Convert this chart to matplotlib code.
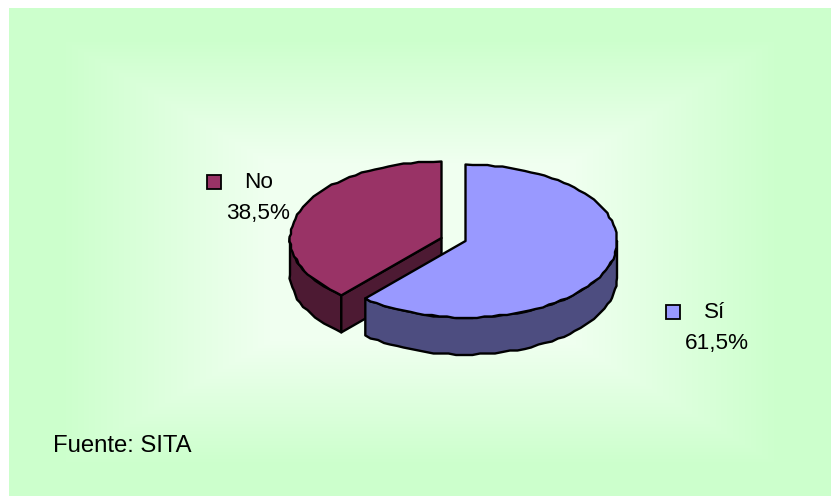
import numpy as np
import matplotlib
matplotlib.use("Agg")
import matplotlib.pyplot as plt
from matplotlib.patches import Polygon, Rectangle

labels = ["Sí", "No"]
values = [61.5, 38.5]
value_texts = ["61,5%", "38,5%"]
source = "Fuente: SITA"
top_colors = ["#9999FF", "#993366"]
side_colors = ["#4D4D80", "#4D1A33"]

W, H = 831, 496
plt.rcParams["font.family"] = ["Liberation Sans", "DejaVu Sans"]
fig = plt.figure(figsize=(W / 100, H / 100), dpi=100, facecolor="white")
ax = fig.add_axes([0, 0, 1, 1])

# background: rectangular gradient
bx0, by0, bx1, by1 = 9, 8, 831, 496
xs = np.arange(bx0, bx1) + .5
ys = np.arange(by0, by1) + .5
X, Y = np.meshgrid(xs, ys)
dx = np.abs(X - (bx0 + bx1) / 2) / ((bx1 - bx0) / 2)
dy = np.abs(Y - (by0 + by1) / 2) / ((by1 - by0) / 2)
d = np.maximum(dx, dy)
t = np.clip((0.875 - d) / 0.51, 0, 1)
edge = np.array([204, 255, 204]) / 255
inner = np.array([240, 255, 240]) / 255
img = edge[None, None, :] + t[..., None] * (inner - edge)[None, None, :]
ax.imshow(img, extent=(bx0, bx1, by1, by0), aspect="auto", zorder=0, interpolation="nearest")
ax.set_xlim(0, W)
ax.set_ylim(H, 0)
ax.axis("off")

A, B, DEPTH = 151.5, 76.5, 37
centers = [(465.5, 241), (441.5, 238)]
frac = np.array(values) / sum(values) * 2 * np.pi
spans = [(0.0, frac[0]), (frac[0], 2 * np.pi)]
GRID = 1.5  # the source outline is a slightly jagged polyline


def arc(c, a0, a1, step=0.05):
    n = max(int((a1 - a0) / step), 2)
    ths = np.linspace(a0, a1, n + 1)
    px = c[0] + A * np.sin(ths)
    py = c[1] - B * np.cos(ths)
    qx, qy = np.round(px / GRID) * GRID, np.round(py / GRID) * GRID
    qx[[0, -1]], qy[[0, -1]] = px[[0, -1]], py[[0, -1]]
    return qx, qy


def slice3d(c, a0, a1, top, side):
    kw = dict(edgecolor="black", linewidth=1.7, joinstyle="round", zorder=3)
    lo, hi = max(a0, np.pi / 2), min(a1, 3 * np.pi / 2)
    if hi > lo:
        fx, fy = arc(c, lo, hi)
        wall = np.r_[np.c_[fx, fy], np.c_[fx, fy + DEPTH][::-1]]
        ax.add_patch(Polygon(wall, closed=True, facecolor=side, **kw))
    if a1 >= 2 * np.pi - 1e-9:
        ex0, ey0 = c[0] + A * np.sin(a0), c[1] - B * np.cos(a0)
        cut = [(ex0, ey0), c, (c[0], c[1] + DEPTH), (ex0, ey0 + DEPTH)]
        ax.add_patch(Polygon(cut, closed=True, facecolor=side, **kw))
    ex, ey = arc(c, a0, a1)
    pts = np.r_[[c], np.c_[ex, ey]]
    ax.add_patch(Polygon(pts, closed=True, facecolor=top, **kw))


slice3d(centers[1], *spans[1], top_colors[1], side_colors[1])
slice3d(centers[0], *spans[0], top_colors[0], side_colors[0])

# labels
label_pos = [(714.5, 313), (258.5, 183)]
value_pos = [(716.5, 343), (258, 213)]
key_pos = [(672.5, 311.5), (213.5, 181.5)]
fs = 16.2
for i in range(2):
    ax.text(*label_pos[i], labels[i], fontsize=fs, ha="center", va="center",
            color="black", zorder=5)
    ax.text(*value_pos[i], value_texts[i], fontsize=fs, ha="center", va="center",
            color="black", zorder=5)
    kx, ky = key_pos[i]
    ax.add_patch(Rectangle((kx - 7, ky - 7), 14, 14, facecolor=top_colors[i],
                           edgecolor="black", linewidth=1.3, zorder=5))
ax.text(53, 446, source, fontsize=17.2, ha="left", va="center", color="black", zorder=5)

fig.savefig("out.png", dpi=100, facecolor="white")
